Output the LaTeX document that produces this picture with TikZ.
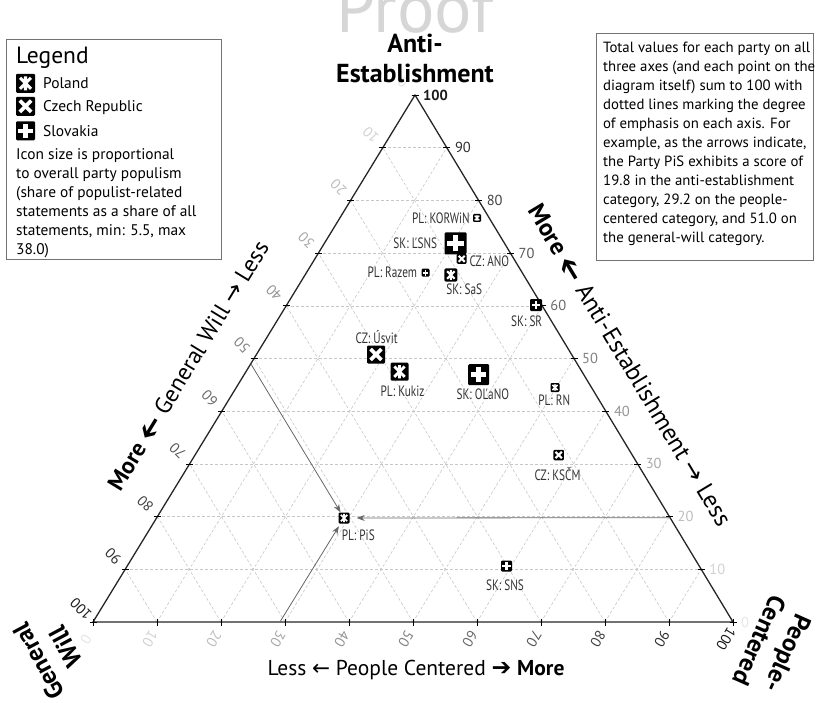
\documentclass[tikz,border=0pt]{standalone}
\usepackage{graphicx}
\usepackage{fontspec}
\setmainfont{PT Sans}
\newfontfamily\condfont[FakeStretch=0.75]{PT Sans}
\newfontfamily\dvsfont{DejaVu Sans}
\usetikzlibrary{arrows.meta,calc}
\newcommand\fsz[2]{\fontsize{#1}{#2}\selectfont}
\newcommand\heavyleft{{\dvsfont\bfseries\scalebox{1.25}{\rotatebox[origin=c]{180}{➔}}}}
\newcommand\heavyright{{\dvsfont\bfseries\scalebox{1.1}{➔}}}
\newcommand\thinright{{\dvsfont →}}
\newcommand\thinleft{{\dvsfont ←}}
\newcommand\iconbox[4]{\node[icon, minimum size=#4pt] (#1) at (#2,#3) {};}
\newcommand\iconPL[4]{\iconbox{#1}{#2}{#3}{#4}%
  \pgfmathsetmacro\icA{0.29*#4}\pgfmathsetmacro\icB{0.37*#4}\pgfmathsetmacro\icW{0.16*#4}%
  \draw[white,line width=\icW pt] (#2-\icA,#3-\icA) -- (#2+\icA,#3+\icA) (#2-\icA,#3+\icA) -- (#2+\icA,#3-\icA) (#2,#3-\icB) -- (#2,#3+\icB);}
\newcommand\iconCZ[4]{\iconbox{#1}{#2}{#3}{#4}%
  \pgfmathsetmacro\icA{0.3*#4}\pgfmathsetmacro\icW{0.2*#4}%
  \draw[white,line width=\icW pt] (#2-\icA,#3-\icA) -- (#2+\icA,#3+\icA) (#2-\icA,#3+\icA) -- (#2+\icA,#3-\icA);}
\newcommand\iconSK[4]{\iconbox{#1}{#2}{#3}{#4}%
  \pgfmathsetmacro\icA{0.37*#4}\pgfmathsetmacro\icW{0.24*#4}%
  \draw[white,line width=\icW pt] (#2-\icA,#3) -- (#2+\icA,#3) (#2,#3-\icA) -- (#2,#3+\icA);}
\begin{document}
\begin{tikzpicture}[x=1pt,y=-1pt,
  gridln/.style={draw=black!22, dash pattern=on 3pt off 2pt, line width=0.6pt},
  tickmk/.style={draw=black, line width=0.8pt},
  tlab/.style={font=\fsz{14.5}{14.5}, inner sep=0pt},
  plab/.style={font=\condfont\fsz{15}{15}, text=black!80, inner sep=0pt},
  parrow/.style={draw=black!60, line width=0.8pt, -{Stealth[length=8pt,width=6pt]}},
  boxln/.style={draw=black!55, line width=0.8pt},
  icon/.style={rectangle, fill=black, rounded corners=1.2pt, inner sep=0pt, draw=none}]
\useasboundingbox (0,0) rectangle (816,703);

% watermark
\node[text=black!16, font=\fsz{70}{70}, anchor=base, inner sep=0pt] (proof) at (415,33) {Proof};

% grid
\foreach \i in {10,20,...,90}{
  \pgfmathsetmacro\f{\i/100}
  \draw[gridln] ({93+322*\f},{622-527*\f}) -- ({733-318*\f},{622-527*\f});
  \draw[gridln] ({93+640*\f},622) -- ({415+318*\f},{95+527*\f});
  \draw[gridln] ({733-640*\f},622) -- ({415-322*\f},{95+527*\f});
}

% triangle
\coordinate (T) at (415,95);
\coordinate (L) at (93,622);
\coordinate (R) at (733,622);
\draw[line width=1.3pt, black!85, line join=round] (T) -- (L) -- (R) -- cycle;

% ticks and labels
\foreach \i in {0,10,...,100}{
  \pgfmathsetmacro\f{\i/100}
  \pgfmathtruncatemacro\c{10+0.8*\i}
  \coordinate (b\i) at ({93+640*\f},622);
  \draw[tickmk] ($(b\i)+(0,-3.5)$) -- ($(b\i)+(0,3.5)$);
  \node[tlab, text=black!\c!white, rotate=-121] (bl\i) at ($(b\i)+(-7,17)$) {\i};
  \coordinate (l\i) at ({93+322*(1-\f)},{622-527*(1-\f)});
  \draw[tickmk] ($(l\i)+(-3.5,0)$) -- ($(l\i)+(3.5,0)$);
  \node[tlab, text=black!\c!white, rotate=135] (ll\i) at ($(l\i)+(-12,-13)$) {\i};
  \coordinate (r\i) at ({733-318*\f},{622-527*\f});
  \draw[tickmk] ($(r\i)+(-3.5,0)$) -- ($(r\i)+(3.5,0)$);
  \node[tlab, text=black!\c!white, anchor=west] (rl\i) at ($(r\i)+(8,0)$) {\ifnum\i=100 \bfseries\fi\i};
}

% axis titles
\node[font=\bfseries\fsz{26}{29.5}, align=center, anchor=north, inner sep=0pt] (aelab) at (415,34) {Anti-\\Establishment};
\node[font=\bfseries\fsz{25}{31}, align=center, rotate=118, inner sep=0pt] (gwlab) at (52,654) {General\\Will};
\node[font=\bfseries\fsz{25}{31}, align=center, rotate=-114, inner sep=0pt] (pclab) at (774,647) {People-\\Centered};
\node[font=\fsz{21.5}{21.5}, anchor=base, inner sep=0pt] (pcaxis) at (416,675) {Less \thinleft{} People Centered \heavyright{} \textbf{More}};
\node[font=\fsz{23.5}{23.5}, rotate=58.6, inner sep=0pt] (gwaxis) at (188,365.5) {\textbf{More} \heavyleft{} General Will \thinright{} Less};
\node[font=\fsz{24.5}{24.5}, rotate=-58.9, inner sep=0pt] (aeaxis) at (630,365) {\textbf{More} \heavyleft{} Anti-Establishment \thinright{} Less};

% parties
\iconPL{korwin}{477}{218}{8}
\iconSK{lsns}{455.5}{243.3}{22}
\iconCZ{ano}{461.7}{258.8}{10}
\iconSK{razem}{425.5}{272.7}{8}
\iconPL{sas}{450.8}{275}{13}
\iconSK{sr}{536}{305}{12}
\iconCZ{usvit}{376}{354.5}{18}
\iconPL{kukiz}{399.5}{371.7}{18}
\iconSK{olano}{478.7}{374.7}{21}
\iconPL{rn}{555}{387.5}{9}
\iconCZ{kscm}{558.7}{455}{10.5}
\iconPL{pis}{344}{518}{11}
\iconSK{sns}{506.5}{566}{11}

\node[plab, anchor=east] (tkorwin) at (470,218.3) {PL: KORWiN};
\node[plab, anchor=east] (tlsns) at (437.3,243.3) {SK: ĽSNS};
\node[plab, anchor=west] (tano) at (469.3,261.7) {CZ: ANO};
\node[plab, anchor=east] (trazem) at (417.3,272.3) {PL: Razem};
\node[plab] (tsas) at (464.2,289.3) {SK: SaS};
\node[plab] (tsr) at (526.7,321.7) {SK: SR};
\node[plab] (tusvit) at (376.7,336.7) {CZ: Úsvit};
\node[plab] (tkukiz) at (402.5,391.7) {PL: Kukiz};
\node[plab] (tolano) at (482.8,394) {SK: OĽaNO};
\node[plab] (trn) at (554.2,400) {PL: RN};
\node[plab] (tkscm) at (557.5,474) {CZ: KSČM};
\node[plab] (tpis) at (358.3,535) {PL: PiS};
\node[plab] (tsns) at (505,585) {SK: SNS};

% PiS arrows
\coordinate (pisL) at (250.8,363.8);
\coordinate (pisB) at (279.9,622);
\coordinate (pisR) at (670,517.7);
\draw[parrow] (pisL) -- (pis);
\draw[parrow, shorten >=3pt] (pisB) -- (pis);
\draw[parrow, shorten >=7pt] (pisR) -- (pis);

% legend
\draw[boxln] (6,39) rectangle (221,259);
\node[font=\fsz{23.5}{23.5}, anchor=base west, inner sep=0pt] (lgtitle) at (16,64) {Legend};
\iconPL{lgpl}{25.5}{83.3}{19}
\iconCZ{lgcz}{25.5}{106.3}{19}
\iconSK{lgsk}{25.5}{130.8}{19}
\node[font=\fsz{15.5}{15.5}, anchor=base west, inner sep=0pt] (lgpltxt) at (43,88.3) {Poland};
\node[font=\fsz{15.5}{15.5}, anchor=base west, inner sep=0pt] (lgcztxt) at (43,112) {Czech Republic};
\node[font=\fsz{15.5}{15.5}, anchor=base west, inner sep=0pt] (lgsktxt) at (43,136.5) {Slovakia};
\node[font=\fsz{15.4}{19}, align=left, anchor=north west, inner sep=0pt] (lgnote) at (16,148) {Icon size is proportional\\to overall party populism\\(share of populist-related\\statements as a share of all\\statements, min: 5.5, max\\38.0)};

% explanation box
\draw[boxln] (596,33) rectangle (813,260);
\node[font=\fsz{14.8}{19}, align=left, anchor=north west, inner sep=0pt] (note) at (603,42.3) {Total values for each party on all\\three axes (and each point on the\\diagram itself) sum to 100 with\\dotted lines marking the degree\\of emphasis on each axis. For\\example, as the arrows indicate,\\the Party PiS exhibits a score of\\19.8 in the anti-establishment\\category, 29.2 on the people-\\centered category, and 51.0 on\\the general-will category.};
\end{tikzpicture}
\end{document}
